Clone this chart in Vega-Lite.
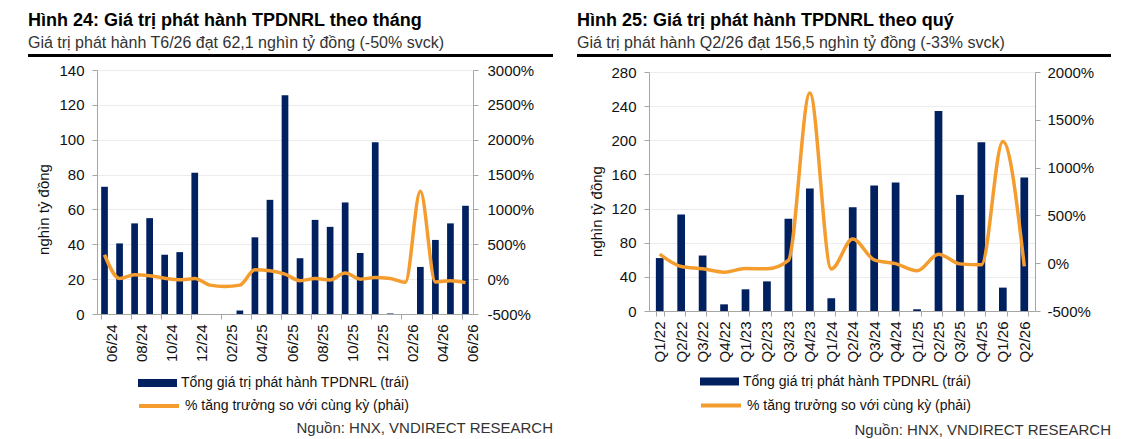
{
  "$schema": "https://vega.github.io/schema/vega-lite/v6.json",
  "background": "white",
  "padding": {"left": 28, "top": 12, "right": 0, "bottom": 0},
  "datasets": {
    "thang": [
      {"thang": "06/24", "gia_tri": 73, "tang_truong": 350},
      {"thang": "07/24", "gia_tri": 40.5, "tang_truong": 10},
      {"thang": "08/24", "gia_tri": 52, "tang_truong": 62},
      {"thang": "09/24", "gia_tri": 55, "tang_truong": 48},
      {"thang": "10/24", "gia_tri": 34, "tang_truong": 14},
      {"thang": "11/24", "gia_tri": 35.5, "tang_truong": -10},
      {"thang": "12/24", "gia_tri": 81, "tang_truong": 10},
      {"thang": "01/25", "gia_tri": 0, "tang_truong": -86},
      {"thang": "02/25", "gia_tri": 0, "tang_truong": -105},
      {"thang": "03/25", "gia_tri": 2, "tang_truong": -86},
      {"thang": "04/25", "gia_tri": 44, "tang_truong": 133},
      {"thang": "05/25", "gia_tri": 65.5, "tang_truong": 122},
      {"thang": "06/25", "gia_tri": 125.5, "tang_truong": 72},
      {"thang": "07/25", "gia_tri": 32, "tang_truong": -22},
      {"thang": "08/25", "gia_tri": 54, "tang_truong": 8},
      {"thang": "09/25", "gia_tri": 50, "tang_truong": -12},
      {"thang": "10/25", "gia_tri": 64, "tang_truong": 87},
      {"thang": "11/25", "gia_tri": 35, "tang_truong": 0},
      {"thang": "12/25", "gia_tri": 98.5, "tang_truong": 22},
      {"thang": "01/26", "gia_tri": 0.3, "tang_truong": 10},
      {"thang": "02/26", "gia_tri": 0, "tang_truong": -45},
      {"thang": "03/26", "gia_tri": 27, "tang_truong": 1260},
      {"thang": "04/26", "gia_tri": 42.5, "tang_truong": -40},
      {"thang": "05/26", "gia_tri": 52, "tang_truong": -22},
      {"thang": "06/26", "gia_tri": 62.1, "tang_truong": -50}
    ],
    "quy": [
      {"quy": "Q1/22", "gia_tri": 62, "tang_truong": 94},
      {"quy": "Q2/22", "gia_tri": 113, "tang_truong": -35},
      {"quy": "Q3/22", "gia_tri": 65, "tang_truong": -59},
      {"quy": "Q4/22", "gia_tri": 7.8, "tang_truong": -94},
      {"quy": "Q1/23", "gia_tri": 25.4, "tang_truong": -55},
      {"quy": "Q2/23", "gia_tri": 34.7, "tang_truong": -59},
      {"quy": "Q3/23", "gia_tri": 108, "tang_truong": 30},
      {"quy": "Q4/23", "gia_tri": 143.5, "tang_truong": 1781},
      {"quy": "Q1/24", "gia_tri": 14.9, "tang_truong": -60},
      {"quy": "Q2/24", "gia_tri": 121.6, "tang_truong": 253},
      {"quy": "Q3/24", "gia_tri": 147, "tang_truong": 35},
      {"quy": "Q4/24", "gia_tri": 150.5, "tang_truong": -5},
      {"quy": "Q1/25", "gia_tri": 2, "tang_truong": -80},
      {"quy": "Q2/25", "gia_tri": 234.4, "tang_truong": 94},
      {"quy": "Q3/25", "gia_tri": 136, "tang_truong": -7},
      {"quy": "Q4/25", "gia_tri": 197.7, "tang_truong": -17},
      {"quy": "Q1/26", "gia_tri": 27.4, "tang_truong": 1274},
      {"quy": "Q2/26", "gia_tri": 156.5, "tang_truong": -33}
    ]
  },
  "resolve": {"scale": {"fill": "independent", "stroke": "independent"}},
  "hconcat": [
    {
      "spacing": 6,
      "resolve": {"scale": {"fill": "independent", "stroke": "independent"}},
      "vconcat": [
        {
          "data": {"values": []},
          "mark": {"type": "point", "opacity": 0},
          "width": 525,
          "height": 3,
          "view": {"fill": "#000000", "stroke": null},
          "title": {
            "text": "Hình 24: Giá trị phát hành TPDNRL theo tháng",
            "subtitle": "Giá trị phát hành T6/26 đạt 62,1 nghìn tỷ đồng (-50% svck)",
            "anchor": "start",
            "offset": 3
          }
        },
        {
          "width": 525,
          "height": 244,
          "data": {"name": "thang"},
          "encoding": {
            "x": {
              "field": "thang",
              "type": "ordinal",
              "sort": null,
              "scale": {"range": [69, 445], "paddingInner": 0.555, "paddingOuter": 0.2775},
              "axis": {
                "title": null,
                "values": ["06/24", "08/24", "10/24", "12/24", "02/25", "04/25", "06/25", "08/25", "10/25", "12/25", "02/26", "04/26", "06/26"],
                "bandPosition": 0,
                "labelOffset": 7.5,
                "labelAngle": -90,
                "labelPadding": 5
              }
            }
          },
          "layer": [
            {
              "mark": {"type": "bar"},
              "encoding": {
                "y": {
                  "field": "gia_tri",
                  "type": "quantitative",
                  "scale": {"domain": [0, 140]},
                  "axis": {
                    "title": "nghìn tỷ đồng",
                    "values": [0, 20, 40, 60, 80, 100, 120, 140],
                    "grid": true,
                    "offset": -69,
                    "labelPadding": 8,
                    "titlePadding": 7,
                    "titleY": 139
                  }
                },
                "fill": {
                  "datum": "Tổng giá trị phát hành TPDNRL (trái)",
                  "scale": {"range": ["#002060"]},
                  "legend": {
                    "orient": "none",
                    "legendX": 110,
                    "legendY": 293.5,
                    "title": null,
                    "symbolType": "M-1,-0.205H1V0.205H-1Z",
                    "symbolSize": 1521,
                    "symbolStrokeWidth": 0,
                    "labelOffset": 4
                  }
                }
              }
            },
            {
              "mark": {"type": "line", "interpolate": "monotone", "strokeWidth": 3.5},
              "encoding": {
                "y": {
                  "field": "tang_truong",
                  "type": "quantitative",
                  "scale": {"domain": [-500, 3000]},
                  "axis": {
                    "orient": "right",
                    "title": null,
                    "values": [-500, 0, 500, 1000, 1500, 2000, 2500, 3000],
                    "labelExpr": "datum.value + '%'",
                    "grid": false,
                    "offset": -80,
                    "labelPadding": 9
                  }
                },
                "stroke": {
                  "datum": "% tăng trưởng so với cùng kỳ (phải)",
                  "scale": {"range": ["#f49d2e"]},
                  "legend": {
                    "orient": "none",
                    "legendX": 109,
                    "legendY": 314,
                    "title": null,
                    "symbolType": "stroke",
                    "symbolSize": 1600,
                    "symbolStrokeWidth": 4,
                    "labelOffset": 4
                  }
                }
              }
            }
          ],
          "resolve": {"scale": {"y": "independent"}}
        },
        {
          "data": {"values": []},
          "mark": {"type": "point", "opacity": 0},
          "width": 525,
          "height": 1,
          "view": {"stroke": null},
          "title": {
            "text": "Nguồn: HNX, VNDIRECT RESEARCH",
            "orient": "bottom",
            "anchor": "end",
            "fontSize": 15,
            "fontWeight": "normal",
            "color": "#333333",
            "offset": 0
          }
        }
      ]
    },
    {
      "spacing": 8,
      "resolve": {"scale": {"fill": "independent", "stroke": "independent"}},
      "vconcat": [
        {
          "data": {"values": []},
          "mark": {"type": "point", "opacity": 0},
          "width": 534,
          "height": 3,
          "view": {"fill": "#000000", "stroke": null},
          "title": {
            "text": "Hình 25: Giá trị phát hành TPDNRL theo quý",
            "subtitle": "Giá trị phát hành Q2/26 đạt 156,5 nghìn tỷ đồng (-33% svck)",
            "anchor": "start",
            "offset": 3
          }
        },
        {
          "width": 534,
          "height": 239,
          "data": {"name": "quy"},
          "encoding": {
            "x": {
              "field": "quy",
              "type": "ordinal",
              "sort": null,
              "scale": {"range": [72, 458], "paddingInner": 0.64, "paddingOuter": 0.32},
              "axis": {
                "title": null,
                "tickBand": "extent",
                "labelAngle": -90,
                "labelPadding": 5
              }
            }
          },
          "layer": [
            {
              "mark": {"type": "bar"},
              "encoding": {
                "y": {
                  "field": "gia_tri",
                  "type": "quantitative",
                  "scale": {"domain": [0, 280]},
                  "axis": {
                    "title": "nghìn tỷ đồng",
                    "values": [0, 40, 80, 120, 160, 200, 240, 280],
                    "grid": true,
                    "offset": -72,
                    "labelPadding": 8,
                    "titlePadding": 6,
                    "titleY": 139
                  }
                },
                "fill": {
                  "datum": "Tổng giá trị phát hành TPDNRL (trái)",
                  "scale": {"range": ["#002060"]},
                  "legend": {
                    "orient": "none",
                    "legendX": 123,
                    "legendY": 290,
                    "title": null,
                    "symbolType": "M-1,-0.205H1V0.205H-1Z",
                    "symbolSize": 1521,
                    "symbolStrokeWidth": 0,
                    "labelOffset": 4
                  }
                }
              }
            },
            {
              "mark": {"type": "line", "interpolate": "monotone", "strokeWidth": 3.5},
              "encoding": {
                "y": {
                  "field": "tang_truong",
                  "type": "quantitative",
                  "scale": {"domain": [-500, 2000]},
                  "axis": {
                    "orient": "right",
                    "title": null,
                    "values": [-500, 0, 500, 1000, 1500, 2000],
                    "labelExpr": "datum.value + '%'",
                    "grid": false,
                    "offset": -76,
                    "labelPadding": 7
                  }
                },
                "stroke": {
                  "datum": "% tăng trưởng so với cùng kỳ (phải)",
                  "scale": {"range": ["#f49d2e"]},
                  "legend": {
                    "orient": "none",
                    "legendX": 122,
                    "legendY": 311.5,
                    "title": null,
                    "symbolType": "stroke",
                    "symbolSize": 1600,
                    "symbolStrokeWidth": 4,
                    "labelOffset": 4
                  }
                }
              }
            }
          ],
          "resolve": {"scale": {"y": "independent"}}
        },
        {
          "data": {"values": []},
          "mark": {"type": "point", "opacity": 0},
          "width": 534,
          "height": 1,
          "view": {"stroke": null},
          "title": {
            "text": "Nguồn: HNX, VNDIRECT RESEARCH",
            "orient": "bottom",
            "anchor": "end",
            "fontSize": 15,
            "fontWeight": "normal",
            "color": "#333333",
            "offset": 0
          }
        }
      ]
    }
  ],
  "spacing": 17,
  "config": {
    "font": "Liberation Sans",
    "view": {"stroke": null},
    "title": {
      "font": "Liberation Sans",
      "fontSize": 18,
      "fontWeight": "bold",
      "color": "#000000",
      "subtitleFont": "Liberation Sans",
      "subtitleFontSize": 16,
      "subtitleColor": "#333333",
      "subtitlePadding": 5
    },
    "axis": {
      "labelFont": "Liberation Sans",
      "labelFontSize": 15,
      "labelColor": "#111111",
      "titleFont": "Liberation Sans",
      "titleFontSize": 15,
      "titleFontWeight": "normal",
      "titleColor": "#111111",
      "domainColor": "#a6a6a6",
      "tickColor": "#a6a6a6",
      "tickSize": 5,
      "gridColor": "#ececec",
      "labelOverlap": false,
      "labelBound": false,
      "labelFlush": false
    },
    "legend": {
      "labelFont": "Liberation Sans",
      "labelFontSize": 14,
      "labelColor": "#111111",
      "labelLimit": 0,
      "padding": 0
    }
  }
}
